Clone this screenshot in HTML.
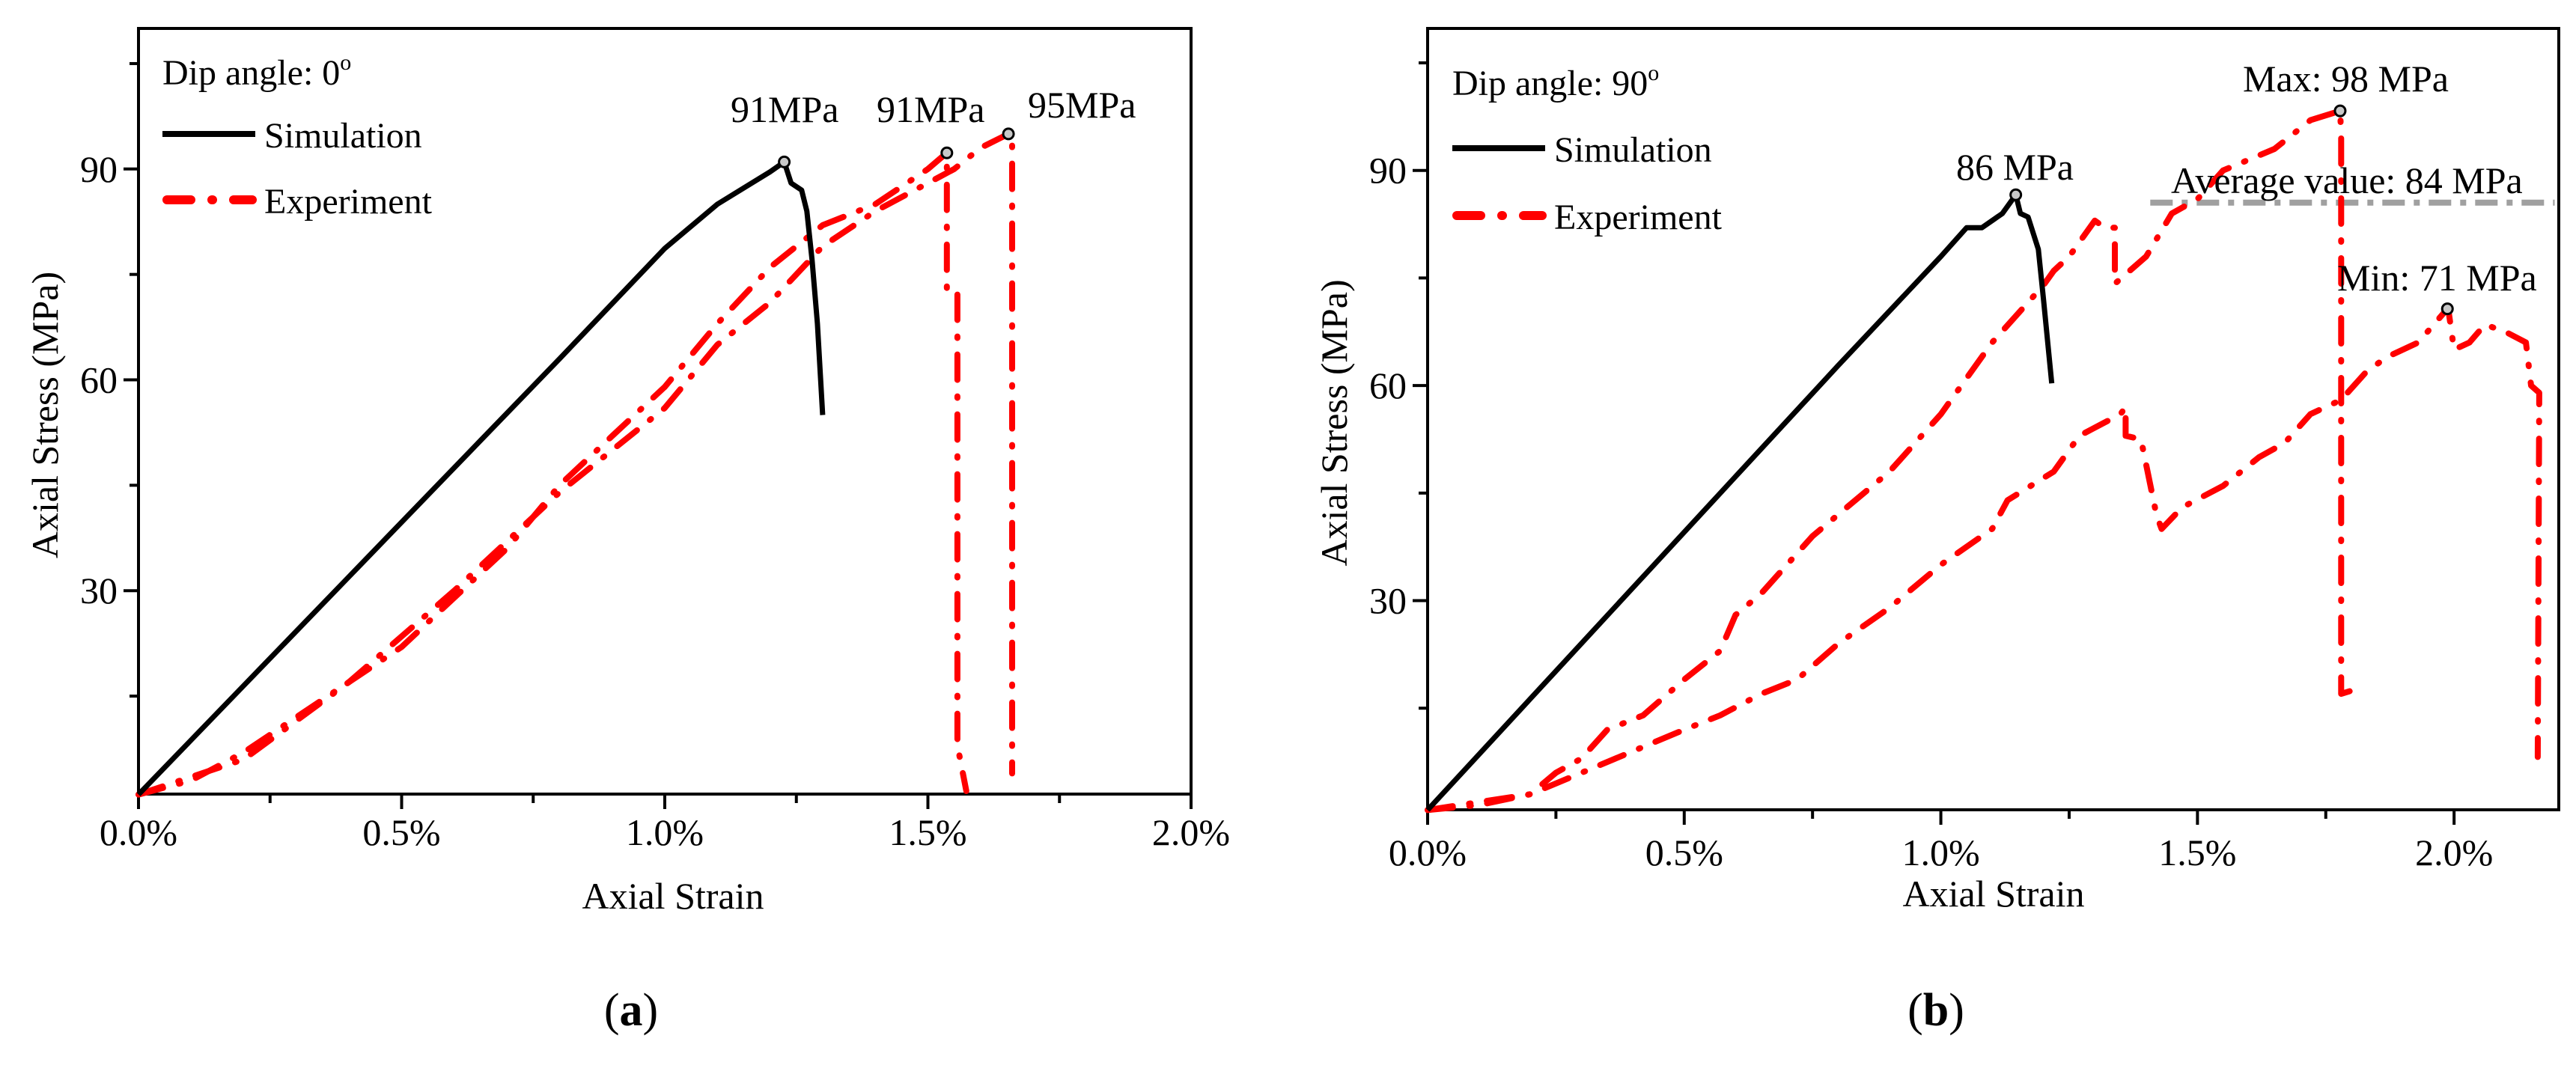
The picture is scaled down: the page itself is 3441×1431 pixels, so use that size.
<!DOCTYPE html>
<html><head><meta charset="utf-8">
<style>
html,body{margin:0;padding:0;background:#fff;}
svg{display:block;font-family:"Liberation Serif",serif;}
</style></head>
<body>
<svg id="chart" width="3441" height="1431" viewBox="0 0 3441 1431" xmlns="http://www.w3.org/2000/svg">
<rect width="3441" height="1431" fill="#fff"/>
</svg>
<script>
// ---- Panel (a) data ----
const aSimX = [0, 0.2, 0.4, 0.6, 0.8, 1.0, 1.1, 1.2, 1.227, 1.24, 1.26, 1.27, 1.28, 1.29, 1.30];
const aSimY = [1, 16.5, 32, 47.5, 63, 78.7, 85, 89.6, 91, 88, 87, 84, 77, 68, 55];
const aExp1X = [0, 0.1, 0.2, 0.3, 0.4, 0.5, 0.6, 0.7, 0.8, 0.9, 1.0, 1.1, 1.2, 1.3, 1.4, 1.5, 1.536, 1.536, 1.556, 1.556, 1.573];
const aExp1Y = [1, 3, 7, 12, 17, 22, 29, 36, 45, 52, 59, 68, 76, 82, 85, 90, 92.3, 73, 72.9, 8, 1.5];
const aExp2X = [0, 0.2, 0.4, 0.6, 0.8, 1.0, 1.1, 1.2, 1.3, 1.4, 1.5, 1.55, 1.6, 1.653, 1.66, 1.66];
const aExp2Y = [1, 6, 17, 30, 44, 56, 65, 71, 79, 84, 88, 90, 93, 95, 95, 4];
const aPeaksX = [1.227, 1.536, 1.653];
const aPeaksY = [91, 92.3, 95];
const aPeakLabels = ["91MPa", "91MPa", "95MPa"];
// ---- Panel (b) data ----
const bSimX = [0, 0.2, 0.4, 0.6, 0.8, 1.0, 1.05, 1.08, 1.12, 1.146, 1.155, 1.17, 1.19, 1.2, 1.216];
const bSimY = [0.8, 16.3, 31.8, 47.3, 62.8, 78, 82, 82, 84, 86.6, 84, 83.5, 79, 72, 60.3];
const bExp1X = [0, 0.1, 0.2, 0.25, 0.3, 0.35, 0.42, 0.5, 0.57, 0.6, 0.65, 0.75, 0.9, 1.0, 1.1, 1.2, 1.22, 1.25, 1.3, 1.32, 1.339, 1.339, 1.4, 1.45, 1.5, 1.55, 1.65, 1.72, 1.778, 1.78, 1.78, 1.807];
const bExp1Y = [0.8, 1.5, 3, 6, 8, 12, 14, 19, 23, 28, 31, 39, 48, 56, 66, 74, 76, 78, 83, 82, 82, 74.2, 78, 84, 86, 90, 93, 97, 98.3, 95, 17, 17.6];
const bExp2X = [0, 0.2, 0.3, 0.4, 0.5, 0.57, 0.65, 0.72, 0.8, 0.9, 1.0, 1.1, 1.13, 1.22, 1.27, 1.35, 1.36, 1.36, 1.39, 1.42, 1.43, 1.47, 1.55, 1.62, 1.67, 1.72, 1.78, 1.83, 1.87, 1.93, 1.987, 1.99, 2.0, 2.03, 2.06, 2.1, 2.14, 2.15, 2.166, 2.163];
const bExp2Y = [0.8, 3, 6, 9, 12, 14, 17, 19, 24, 29, 35, 40, 44, 48, 53, 56, 57, 53, 52.5, 42, 40, 43, 46, 50, 52, 56, 58, 62, 64, 66, 70.7, 70, 65, 66, 68.5, 67.5, 66, 60, 59, 8.2];
const bAvgX = [1.408, 2.196];
const bAvgY = [85.5, 85.5];
const bMarkX = [1.146, 1.778, 1.987];
const bMarkY = [86.6, 98.3, 70.7];
const xTickLabels = ["0.0%", "0.5%", "1.0%", "1.5%", "2.0%"];
const xTickVals = [0, 0.5, 1.0, 1.5, 2.0];
const yTickVals = [30, 60, 90];

const NS = "http://www.w3.org/2000/svg";
const svg = document.getElementById('chart');
function mk(tag, attrs, parent, text) {
  const e = document.createElementNS(NS, tag);
  for (const k in attrs) e.setAttribute(k, attrs[k]);
  if (text !== undefined) e.textContent = text;
  (parent || svg).appendChild(e);
  return e;
}
const DASH = "34 22 2 22";

function panel(cfg) {
  const g = mk('g', {});
  
  
  const sx = v => cfg.L + (v - cfg.x0) / (cfg.x1 - cfg.x0) * (cfg.R - cfg.L);
  const sy = v => cfg.B - (v - cfg.y0) / (cfg.y1 - cfg.y0) * (cfg.B - cfg.T);
  const pts = (xs, ys) => xs.map((x, i) => sx(x).toFixed(1) + ',' + sy(ys[i]).toFixed(1)).join(' ');
  // frame
  const fr = mk('rect', {x: cfg.L, y: cfg.T, width: cfg.R - cfg.L, height: cfg.B - cfg.T, fill: 'none', stroke: '#000', 'stroke-width': 4}, g);
  
  
  // x ticks
  for (let v = 0; v <= cfg.x1 + 1e-9; v += 0.25) {
    const major = Math.abs(v / 0.5 - Math.round(v / 0.5)) < 1e-6;
    const t = mk('line', {x1: sx(v), x2: sx(v), y1: cfg.B, y2: cfg.B + (major ? 20 : 12), stroke: '#000', 'stroke-width': 4}, g);
    
    
  }
  xTickVals.forEach((v, i) => {
    const t = mk('text', {x: sx(v), y: cfg.xLabY, 'font-size': 50, 'text-anchor': 'middle'}, g, xTickLabels[i]);
    
    
  });
  for (let v = 15; v < cfg.y1; v += 15) {
    const major = v % 30 === 0;
    const t = mk('line', {x1: cfg.L - (major ? 20 : 12), x2: cfg.L, y1: sy(v), y2: sy(v), stroke: '#000', 'stroke-width': 4}, g);
    
    
  }
  yTickVals.forEach(v => {
    const t = mk('text', {x: cfg.L - 28, y: sy(v) + 17, 'font-size': 50, 'text-anchor': 'end'}, g, String(v));
    
    
  });
  const xt = mk('text', {x: cfg.xTitleX, y: cfg.xTitleY, 'font-size': 50, 'text-anchor': 'middle'}, g, 'Axial Strain');
  
  
  const yt = mk('text', {x: 0, y: 0, 'font-size': 50, 'text-anchor': 'middle', transform: `translate(${cfg.L - 108},${(cfg.T + cfg.B) / 2 + 5}) rotate(-90)`}, g, 'Axial Stress (MPa)');
  
  
  const cap = mk('text', {x: cfg.capX, y: 1370, 'font-size': 62, 'text-anchor': 'middle'}, g);
  
  
  mk('tspan', {}, cap, '(');
  mk('tspan', {'font-weight': 'bold'}, cap, cfg.letter);
  mk('tspan', {}, cap, ')');
  // series
  cfg.extra && cfg.extra(g, sx, sy, pts);
  cfg.exps.forEach(([xs, ys], i) => {
    const p = mk('polyline', {points: pts(xs, ys), fill: 'none', stroke: '#ff0000', 'stroke-width': 8, 'stroke-dasharray': DASH, 'stroke-linecap': 'round', 'stroke-linejoin': 'round'}, g);
    
    
  });
  const s = mk('polyline', {points: pts(cfg.simX, cfg.simY), fill: 'none', stroke: '#000', 'stroke-width': 7, 'stroke-linejoin': 'round'}, g);
  
  
  cfg.markX.forEach((x, i) => {
    const c = mk('circle', {cx: sx(x), cy: sy(cfg.markY[i]), r: 7, fill: '#c8c8c8', stroke: '#000', 'stroke-width': 3}, g);
    
    
  });
  cfg.labels.forEach(l => {
    const t = mk('text', {x: l[1], y: l[2], 'font-size': 50}, g, l[0]);
    
    
  });
  // legend
  const lg = mk('g', {}, g);
  
  
  const dip = mk('text', {x: cfg.lgX, y: cfg.lgDipY, 'font-size': 48}, lg, cfg.dipText);
  
  
  mk('tspan', {'font-size': 30, dy: -20}, dip, 'o');
  const l1 = mk('line', {x1: cfg.lgX, x2: cfg.lgX + 124, y1: cfg.lgSimY, y2: cfg.lgSimY, stroke: '#000', 'stroke-width': 8}, lg);
  
  
  mk('text', {x: cfg.lgX + 136, y: cfg.lgSimY + 18, 'font-size': 48}, lg, 'Simulation');
  const l2 = mk('line', {x1: cfg.lgX + 6, x2: cfg.lgX + 120, y1: cfg.lgExpY, y2: cfg.lgExpY, stroke: '#ff0000', 'stroke-width': 12, 'stroke-linecap': 'round', 'stroke-dasharray': '32 28 1 28'}, lg);
  
  
  mk('text', {x: cfg.lgX + 136, y: cfg.lgExpY + 18, 'font-size': 48}, lg, 'Experiment');
}

panel({
  name: 'panel-a', letter: 'a', L: 185, R: 1591, T: 38, B: 1061, x0: 0, x1: 2.0, y0: 1.06, y1: 110,
  xLabY: 1129, xTitleX: 899, xTitleY: 1214, capX: 843,
  simX: aSimX, simY: aSimY, exps: [[aExp1X, aExp1Y], [aExp2X, aExp2Y]],
  markX: aPeaksX, markY: aPeaksY,
  labels: [[aPeakLabels[0], 976, 163], [aPeakLabels[1], 1171, 163], [aPeakLabels[2], 1373, 157]],
  lgX: 217, lgDipY: 113, lgSimY: 179, lgExpY: 267, dipText: 'Dip angle: 0'
});
panel({
  name: 'panel-b', letter: 'b', L: 1907, R: 3418, T: 38, B: 1082, x0: 0, x1: 2.204, y0: 0.83, y1: 109.8,
  xLabY: 1156, xTitleX: 2663, xTitleY: 1211, capX: 2586,
  simX: bSimX, simY: bSimY, exps: [[bExp1X, bExp1Y], [bExp2X, bExp2Y]],
  markX: bMarkX, markY: bMarkY,
  labels: [['Max: 98 MPa', 2996, 122], ['86 MPa', 2613, 240], ['Average value: 84 MPa', 2900, 258], ['Min: 71 MPa', 3122, 388]],
  lgX: 1940, lgDipY: 127, lgSimY: 198, lgExpY: 288, dipText: 'Dip angle: 90',
  extra: (g, sx, sy, pts) => {
    const a = mk('polyline', {points: pts(bAvgX, bAvgY), fill: 'none', stroke: '#a0a0a0', 'stroke-width': 8, 'stroke-dasharray': '30 12 8 12'}, g);
    
    
  }
});
</script>
</body></html>
